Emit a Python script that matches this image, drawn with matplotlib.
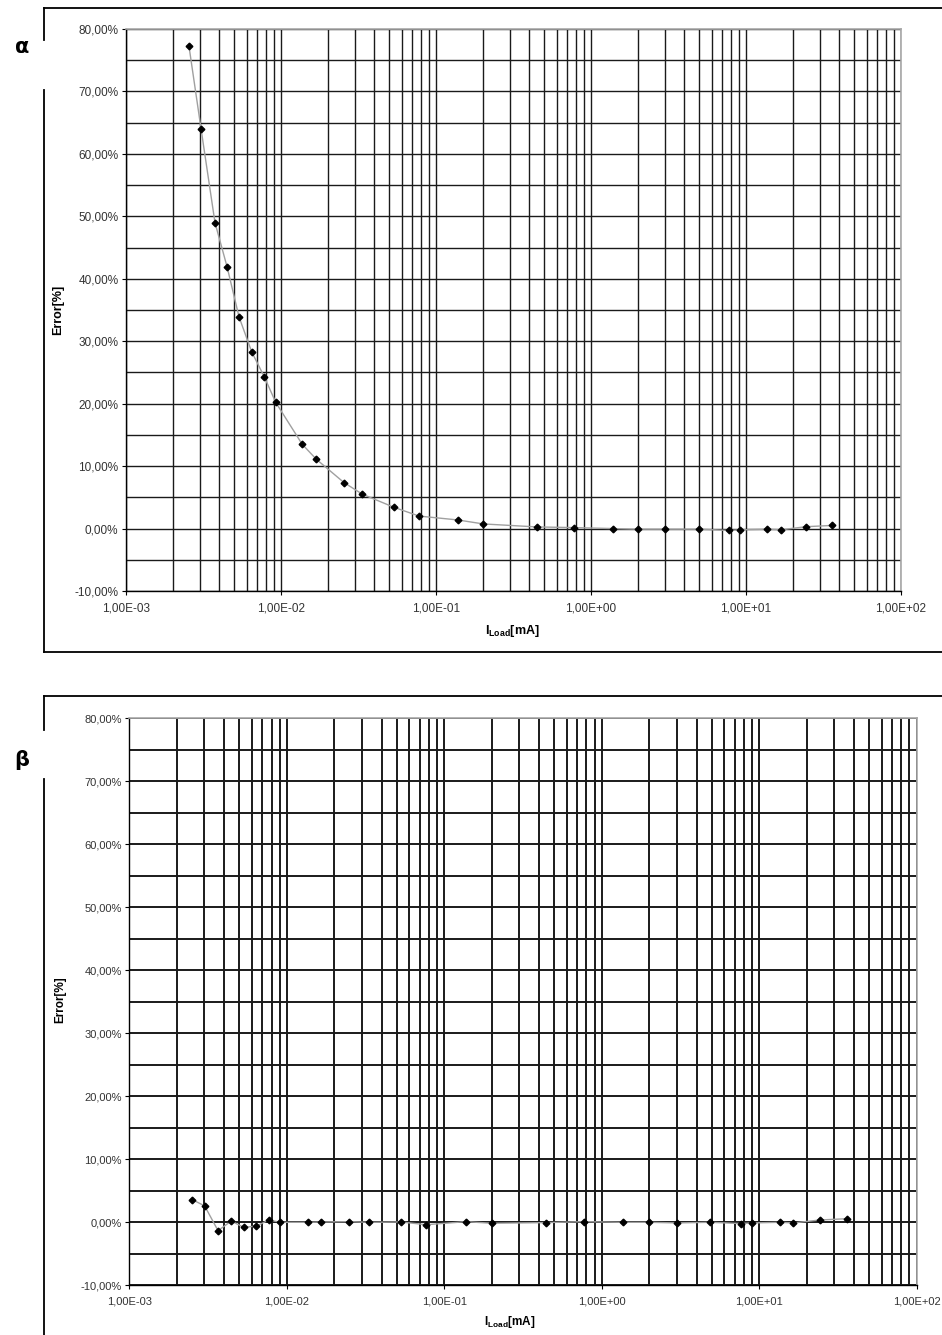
import matplotlib
matplotlib.use('Agg')
import matplotlib.pyplot as plt
import matplotlib.ticker as mticker
from matplotlib.lines import Line2D
import numpy as np

plt.rcParams['font.family'] = ['Liberation Sans', 'DejaVu Sans']
plt.rcParams['mathtext.fontset'] = 'custom'
plt.rcParams['mathtext.rm'] = 'Liberation Sans'
plt.rcParams['mathtext.bf'] = 'Liberation Sans:bold'

# panel alpha: load current [mA] and error [%]
i_alpha = [2.55e-3, 3.05e-3, 3.75e-3, 4.49e-3, 5.36e-3, 6.47e-3, 7.8e-3, 9.25e-3,
           1.37e-2, 1.69e-2, 2.55e-2, 3.35e-2, 5.36e-2, 7.77e-2, 0.138, 0.202,
           0.447, 0.78, 1.38, 2.02, 3.0, 4.97, 7.73, 9.1, 13.6, 16.7, 24.5, 35.9]
err_alpha = [77.2, 64.0, 49.0, 41.9, 33.9, 28.3, 24.3, 20.2,
             13.5, 11.1, 7.36, 5.5, 3.4, 2.0, 1.38, 0.74,
             0.26, 0.15, 0.0, -0.1, -0.1, -0.1, -0.3, -0.2, -0.1, -0.2, 0.3, 0.5]

# panel beta
i_beta = [2.51e-3, 3.01e-3, 3.66e-3, 4.44e-3, 5.33e-3, 6.4e-3, 7.7e-3, 9.1e-3,
          1.36e-2, 1.66e-2, 2.5e-2, 3.31e-2, 5.3e-2, 7.7e-2, 0.137, 0.2,
          0.44, 0.77, 1.36, 2.0, 2.99, 4.89, 7.62, 9.03, 13.5, 16.5, 24.4, 35.9]
err_beta = [3.6, 2.6, -1.33, 0.2, -0.8, -0.6, 0.37, 0.0,
            0.0, 0.05, 0.1, 0.0, 0.05, -0.38, 0.1, -0.15,
            -0.05, 0.1, 0.0, 0.0, -0.1, 0.0, -0.2, -0.1, 0.0, -0.1, 0.37, 0.57]

W, H = 942, 1335
fig = plt.figure(figsize=(W / 100, H / 100), dpi=100)


def px_rect(l, t, r, b):
    return [l / W, 1 - b / H, (r - l) / W, (b - t) / H]


def setup(ax, x, y, fs, glw):
    ax.set_xscale('log')
    ax.set_xlim(1e-3, 1e2)
    ax.set_ylim(-10, 80)
    ax.plot(x, y, color='#a0a0a0', lw=1.0, zorder=3)
    ax.plot(x, y, ls='none', marker='D', ms=3.4, color='black', zorder=4)
    ax.xaxis.set_major_locator(mticker.LogLocator(base=10, numticks=10))
    ax.xaxis.set_minor_locator(mticker.LogLocator(base=10, subs=np.arange(2, 10), numticks=20))
    ax.xaxis.set_minor_formatter(mticker.NullFormatter())
    ax.xaxis.set_major_formatter(mticker.FuncFormatter(
        lambda v, p: ('%.2E' % v).replace('.', ',')))
    ax.yaxis.set_major_locator(mticker.MultipleLocator(10))
    ax.yaxis.set_minor_locator(mticker.MultipleLocator(5))
    ax.yaxis.set_major_formatter(mticker.FuncFormatter(
        lambda v, p: ('%.2f%%' % v).replace('.', ',')))
    ax.grid(True, which='both', axis='both', color='#1a1a1a', lw=glw, zorder=1)
    ax.tick_params(which='major', direction='out', length=3, width=0.8,
                   labelsize=fs, colors='black', labelcolor='#333333')
    ax.tick_params(axis='y', pad=2.5)
    ax.tick_params(axis='x', pad=5)
    ax.tick_params(which='minor', length=0)
    for s in ['top', 'right']:
        ax.spines[s].set_color('#a8a8a8')
        ax.spines[s].set_linewidth(1.2)
    for s in ['left', 'bottom']:
        ax.spines[s].set_color('black')
        ax.spines[s].set_linewidth(1.0)
    ax.set_axisbelow(True)


ax1 = fig.add_axes(px_rect(126, 29, 901, 591))
setup(ax1, i_alpha, err_alpha, 8.5, 1.0)
ax2 = fig.add_axes(px_rect(129.3, 718.3, 916.7, 1285.3))
setup(ax2, i_beta, err_beta, 8.0, 1.4)

# axis titles
fig.text(58 / W, 1 - 310 / H, 'Error[%]', rotation=90, ha='center', va='center',
         fontsize=9, fontweight='bold')
fig.text(512 / W, 1 - 631 / H, r'$\mathbf{I_{Load}[mA]}$', ha='center', va='center',
         fontsize=9)
fig.text(60 / W, 1 - 1000 / H, 'Error[%]', rotation=90, ha='center', va='center',
         fontsize=8.5, fontweight='bold')
fig.text(510 / W, 1 - 1322 / H, r'$\mathbf{I_{Load}[mA]}$', ha='center', va='center',
         fontsize=8.5)

# panel labels
fig.text(22 / W, 1 - 47 / H, 'α', ha='center', va='center', fontsize=15,
         fontweight='bold', family=['DejaVu Sans'])
fig.text(22 / W, 1 - 760 / H, 'β', ha='center', va='center', fontsize=15,
         fontweight='bold', family=['DejaVu Sans'])


# frames around panels (left edge broken at the label)
def fx(v):
    return v / W


def fy(v):
    return 1 - v / H


def frame(top, bottom, gap0, gap1):
    kw = dict(color='black', lw=1.3, transform=fig.transFigure)
    fig.add_artist(Line2D([fx(43.5), fx(942)], [fy(top), fy(top)], **kw))
    if bottom is not None:
        fig.add_artist(Line2D([fx(43.5), fx(942)], [fy(bottom), fy(bottom)], **kw))
    fig.add_artist(Line2D([fx(43.5), fx(43.5)], [fy(top), fy(gap0)], **kw))
    fig.add_artist(Line2D([fx(43.5), fx(43.5)], [fy(gap1), fy(bottom if bottom else H)], **kw))


frame(8, 652, 40, 90)
frame(696, None, 730, 779)

fig.savefig('out.png', dpi=100)
